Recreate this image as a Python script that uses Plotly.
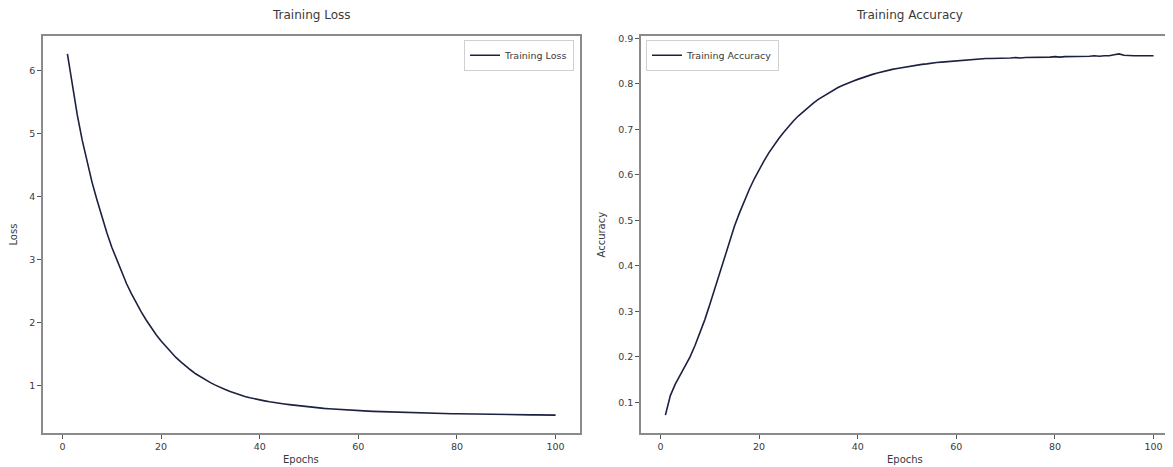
import plotly.graph_objects as go

epochs = list(range(1, 101))

train_loss = [
    6.27, 5.75, 5.30, 4.90, 4.55, 4.23, 3.95, 3.68, 3.43, 3.20,
    3.00, 2.80, 2.62, 2.46, 2.31, 2.17, 2.04, 1.92, 1.81, 1.71,
    1.62, 1.53, 1.45, 1.38, 1.31, 1.25, 1.19, 1.14, 1.09, 1.05,
    1.01, 0.97, 0.94, 0.91, 0.88, 0.855, 0.83, 0.81, 0.79, 0.775,
    0.76, 0.745, 0.73, 0.72, 0.71, 0.70, 0.69, 0.68, 0.67, 0.66,
    0.655, 0.648, 0.641, 0.635, 0.629, 0.623, 0.618, 0.613, 0.609, 0.605,
    0.601, 0.597, 0.593, 0.590, 0.587, 0.584, 0.581, 0.578, 0.576, 0.573,
    0.571, 0.569, 0.567, 0.565, 0.563, 0.561, 0.559, 0.558, 0.556, 0.555,
    0.553, 0.552, 0.551, 0.549, 0.548, 0.547, 0.546, 0.545, 0.544, 0.543,
    0.542, 0.541, 0.540, 0.539, 0.538, 0.537, 0.536, 0.535, 0.534, 0.533,
]

train_acc = [
    0.072, 0.115, 0.140, 0.160, 0.180, 0.200, 0.225, 0.252, 0.282, 0.315,
    0.350, 0.385, 0.420, 0.455, 0.487, 0.516, 0.543, 0.568, 0.591, 0.612,
    0.631, 0.649, 0.665, 0.680, 0.694, 0.707, 0.719, 0.730, 0.740, 0.749,
    0.758, 0.766, 0.773, 0.780, 0.786, 0.792, 0.797, 0.802, 0.806, 0.810,
    0.814, 0.818, 0.821, 0.824, 0.827, 0.829, 0.832, 0.834, 0.836, 0.838,
    0.840, 0.841, 0.843, 0.844, 0.846, 0.847, 0.848, 0.849, 0.850, 0.851,
    0.852, 0.853, 0.854, 0.854, 0.855, 0.856, 0.856, 0.856, 0.857, 0.857,
    0.857, 0.858, 0.857, 0.858, 0.858, 0.859, 0.859, 0.858, 0.859, 0.860,
    0.859, 0.860, 0.860, 0.861, 0.860, 0.861, 0.861, 0.862, 0.861, 0.862,
    0.862, 0.864, 0.866, 0.863, 0.862, 0.862, 0.862, 0.862, 0.862, 0.862,
]

x_ticks = [0, 20, 40, 60, 80, 100]
loss_ticks = [1, 2, 3, 4, 5, 6]
acc_ticks = [0.1, 0.2, 0.3, 0.4, 0.5, 0.6, 0.7, 0.8, 0.9]

# the page body adds an 8px offset; the figure fills the rest of the window
OFF = 8
W, H = 1173 - OFF, 467 - OFF
LINE = "#1c2140"
SPINE = "#8a8a8a"
TXT = "#3a3a3a"
FONT = "DejaVu Sans"

def px_x(p):
    return (p - OFF) / W

def px_y(p):
    return (H - (p - OFF)) / H

fig = go.Figure()
fig.add_trace(go.Scatter(x=epochs, y=train_loss, mode="lines", name="Training Loss",
                         line=dict(color=LINE, width=1.6), xaxis="x", yaxis="y",
                         legend="legend"))
fig.add_trace(go.Scatter(x=epochs, y=train_acc, mode="lines", name="Training Accuracy",
                         line=dict(color=LINE, width=1.6), xaxis="x2", yaxis="y2",
                         legend="legend2"))

def lrange(vals):
    lo, hi = min(vals), max(vals)
    m = (hi - lo) * 0.05
    return [lo - m, hi + m]

xr = lrange(epochs)
# right panel clipped by the image edge: same scale, shorter visible span
scale = (xr[1] - xr[0]) / (580 - 43)
xr2 = [xr[0], xr[0] + scale * (1173 - 641)]

axis_common = dict(showgrid=False, zeroline=False, ticks="outside", ticklen=4,
                   tickcolor="#555", tickwidth=1, linecolor=SPINE, linewidth=1.5,
                   tickfont=dict(family=FONT, size=9.5, color=TXT), showline=True)

fig.update_layout(
    width=W, height=H,
    margin=dict(l=0, r=0, t=0, b=0),
    paper_bgcolor="white", plot_bgcolor="white",
    font=dict(family=FONT, color=TXT),
    xaxis=dict(domain=[px_x(43), px_x(580)], range=xr, tickvals=x_ticks,
               anchor="y", mirror=True, **axis_common),
    yaxis=dict(domain=[px_y(433), px_y(33)], range=lrange(train_loss), tickvals=loss_ticks,
               anchor="x", mirror=True, **axis_common),
    xaxis2=dict(domain=[px_x(641), 1.0], range=xr2, tickvals=x_ticks,
                anchor="y2", mirror=True, **axis_common),
    yaxis2=dict(domain=[px_y(433), px_y(33)], range=lrange(train_acc), tickvals=acc_ticks,
                ticktext=[f"{v:.1f}" for v in acc_ticks], anchor="x2", **axis_common),
    legend=dict(x=px_x(574), y=px_y(37), xanchor="right", yanchor="top",
                bgcolor="white", bordercolor="#d0d0d0", borderwidth=1,
                font=dict(family=FONT, size=9.5, color=TXT), itemwidth=30,
                tracegroupgap=0),
    legend2=dict(x=px_x(646), y=px_y(37), xanchor="left", yanchor="top",
                 bgcolor="white", bordercolor="#d0d0d0", borderwidth=1,
                 font=dict(family=FONT, size=9.5, color=TXT), itemwidth=30,
                 tracegroupgap=0),
    showlegend=True,
)

annots = [
    dict(text="Training Loss", x=px_x(311), y=px_y(12), size=12),
    dict(text="Training Accuracy", x=px_x(909), y=px_y(12), size=12),
    dict(text="Epochs", x=px_x(301), y=px_y(459), size=10),
    dict(text="Epochs", x=px_x(905), y=px_y(459), size=10),
]
for a in annots:
    fig.add_annotation(text=a["text"], x=a["x"], y=a["y"], xref="paper", yref="paper",
                       xanchor="center", yanchor="middle", showarrow=False,
                       font=dict(family=FONT, size=a["size"], color=TXT))
fig.add_annotation(text="Loss", x=px_x(14), y=px_y(233), xref="paper", yref="paper",
                   textangle=-90, showarrow=False, xanchor="center", yanchor="middle",
                   font=dict(family=FONT, size=10, color=TXT))
fig.add_annotation(text="Accuracy", x=px_x(602), y=px_y(233), xref="paper", yref="paper",
                   textangle=-90, showarrow=False, xanchor="center", yanchor="middle",
                   font=dict(family=FONT, size=10, color=TXT))

fig.write_html("out.html")
